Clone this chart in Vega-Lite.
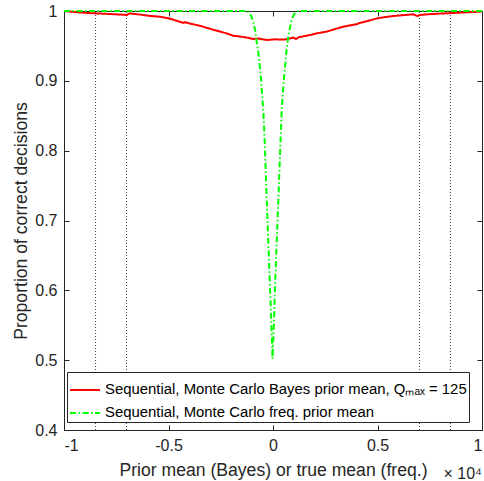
{
  "$schema": "https://vega.github.io/schema/vega-lite/v6.json",
  "width": 418,
  "height": 419,
  "autosize": {"type": "none"},
  "padding": {"left": 64, "top": 11, "right": 2, "bottom": 51},
  "background": "white",
  "title": {"text": "× 10⁴", "orient": "bottom", "anchor": "end", "frame": "group", "fontSize": 16, "font": "Liberation Sans", "fontWeight": "normal", "color": "#262626", "offset": -13},
  "config": {
    "font": "Liberation Sans",
    "title": {"fontSize": 16, "fontWeight": "normal", "font": "Liberation Sans"},
    "view": {"stroke": "#262626", "strokeWidth": 1},
    "axis": {
      "domainColor": "#262626",
      "domainWidth": 1,
      "tickColor": "#262626",
      "tickSize": -5,
      "tickWidth": 1,
      "grid": false,
      "labelFont": "Liberation Sans",
      "labelFontSize": 16,
      "labelColor": "#262626",
      "titleFont": "Liberation Sans",
      "titleFontSize": 17.6,
      "titleFontWeight": "normal",
      "titleColor": "#262626"
    },
    "legend": {
      "orient": "none",
      "legendX": 3,
      "legendY": 361,
      "direction": "vertical",
      "strokeColor": "#262626",
      "fillColor": "white",
      "padding": 2,
      "symbolType": "stroke",
      "symbolSize": 900,
      "symbolStrokeWidth": 2,
      "labelFont": "Liberation Sans",
      "labelFontSize": 14.9,
      "labelColor": "#000000",
      "labelLimit": 500,
      "labelOffset": 4,
      "rowPadding": -5,
      "offset": 0
    }
  },
  "datasets": {
    "rules": [{"vx": -8490}, {"vx": -7010}, {"vx": 7010}, {"vx": 8490}],
    "curves": [
      {"x": -10000, "p": 1.0, "s": "Bayes"},
      {"x": -9500, "p": 0.9985, "s": "Bayes"},
      {"x": -9000, "p": 0.9975, "s": "Bayes"},
      {"x": -8600, "p": 0.9967, "s": "Bayes"},
      {"x": -8000, "p": 0.996, "s": "Bayes"},
      {"x": -7500, "p": 0.9952, "s": "Bayes"},
      {"x": -7100, "p": 0.9946, "s": "Bayes"},
      {"x": -7000, "p": 0.994, "s": "Bayes"},
      {"x": -6900, "p": 0.9962, "s": "Bayes"},
      {"x": -6840, "p": 0.9965, "s": "Bayes"},
      {"x": -6400, "p": 0.995, "s": "Bayes"},
      {"x": -5890, "p": 0.993, "s": "Bayes"},
      {"x": -5410, "p": 0.9918, "s": "Bayes"},
      {"x": -5000, "p": 0.9895, "s": "Bayes"},
      {"x": -4770, "p": 0.9875, "s": "Bayes"},
      {"x": -4500, "p": 0.985, "s": "Bayes"},
      {"x": -4290, "p": 0.983, "s": "Bayes"},
      {"x": -4200, "p": 0.984, "s": "Bayes"},
      {"x": -4050, "p": 0.9825, "s": "Bayes"},
      {"x": -3810, "p": 0.981, "s": "Bayes"},
      {"x": -3400, "p": 0.978, "s": "Bayes"},
      {"x": -3010, "p": 0.9745, "s": "Bayes"},
      {"x": -2600, "p": 0.971, "s": "Bayes"},
      {"x": -2220, "p": 0.968, "s": "Bayes"},
      {"x": -1900, "p": 0.9645, "s": "Bayes"},
      {"x": -1600, "p": 0.9635, "s": "Bayes"},
      {"x": -1260, "p": 0.962, "s": "Bayes"},
      {"x": -940, "p": 0.96, "s": "Bayes"},
      {"x": -700, "p": 0.9605, "s": "Bayes"},
      {"x": -500, "p": 0.9595, "s": "Bayes"},
      {"x": -300, "p": 0.9585, "s": "Bayes"},
      {"x": -100, "p": 0.959, "s": "Bayes"},
      {"x": 100, "p": 0.9595, "s": "Bayes"},
      {"x": 330, "p": 0.959, "s": "Bayes"},
      {"x": 660, "p": 0.9595, "s": "Bayes"},
      {"x": 850, "p": 0.961, "s": "Bayes"},
      {"x": 970, "p": 0.962, "s": "Bayes"},
      {"x": 1100, "p": 0.9598, "s": "Bayes"},
      {"x": 1250, "p": 0.9625, "s": "Bayes"},
      {"x": 1500, "p": 0.964, "s": "Bayes"},
      {"x": 1770, "p": 0.9656, "s": "Bayes"},
      {"x": 2100, "p": 0.968, "s": "Bayes"},
      {"x": 2570, "p": 0.9705, "s": "Bayes"},
      {"x": 2900, "p": 0.9735, "s": "Bayes"},
      {"x": 3360, "p": 0.9775, "s": "Bayes"},
      {"x": 3700, "p": 0.9795, "s": "Bayes"},
      {"x": 4000, "p": 0.981, "s": "Bayes"},
      {"x": 4160, "p": 0.983, "s": "Bayes"},
      {"x": 4500, "p": 0.9855, "s": "Bayes"},
      {"x": 4960, "p": 0.9893, "s": "Bayes"},
      {"x": 5300, "p": 0.991, "s": "Bayes"},
      {"x": 5760, "p": 0.9928, "s": "Bayes"},
      {"x": 6200, "p": 0.994, "s": "Bayes"},
      {"x": 6710, "p": 0.9952, "s": "Bayes"},
      {"x": 6900, "p": 0.9928, "s": "Bayes"},
      {"x": 7030, "p": 0.9943, "s": "Bayes"},
      {"x": 7500, "p": 0.9955, "s": "Bayes"},
      {"x": 8000, "p": 0.9963, "s": "Bayes"},
      {"x": 8310, "p": 0.9967, "s": "Bayes"},
      {"x": 8800, "p": 0.9975, "s": "Bayes"},
      {"x": 9300, "p": 0.9982, "s": "Bayes"},
      {"x": 9900, "p": 0.999, "s": "Bayes"},
      {"x": 10000, "p": 1.0, "s": "Bayes"},
      {"x": -10000, "p": 1.0, "s": "freq"},
      {"x": -1300, "p": 1.0, "s": "freq"},
      {"x": -1200, "p": 0.999, "s": "freq"},
      {"x": -1100, "p": 0.996, "s": "freq"},
      {"x": -1000, "p": 0.99, "s": "freq"},
      {"x": -940, "p": 0.983, "s": "freq"},
      {"x": -850, "p": 0.972, "s": "freq"},
      {"x": -790, "p": 0.958, "s": "freq"},
      {"x": -700, "p": 0.94, "s": "freq"},
      {"x": -600, "p": 0.912, "s": "freq"},
      {"x": -464, "p": 0.858, "s": "freq"},
      {"x": -400, "p": 0.815, "s": "freq"},
      {"x": -300, "p": 0.729, "s": "freq"},
      {"x": -200, "p": 0.65, "s": "freq"},
      {"x": -144, "p": 0.605, "s": "freq"},
      {"x": -80, "p": 0.553, "s": "freq"},
      {"x": -20, "p": 0.502, "s": "freq"},
      {"x": 40, "p": 0.548, "s": "freq"},
      {"x": 96, "p": 0.605, "s": "freq"},
      {"x": 180, "p": 0.67, "s": "freq"},
      {"x": 254, "p": 0.729, "s": "freq"},
      {"x": 330, "p": 0.79, "s": "freq"},
      {"x": 416, "p": 0.858, "s": "freq"},
      {"x": 500, "p": 0.895, "s": "freq"},
      {"x": 650, "p": 0.944, "s": "freq"},
      {"x": 750, "p": 0.967, "s": "freq"},
      {"x": 890, "p": 0.987, "s": "freq"},
      {"x": 1000, "p": 0.995, "s": "freq"},
      {"x": 1100, "p": 0.998, "s": "freq"},
      {"x": 1200, "p": 1.0, "s": "freq"},
      {"x": 10000, "p": 1.0, "s": "freq"}
    ]
  },
  "resolve": {"axis": {"x": "independent", "y": "independent"}},
  "layer": [
    {
      "data": {"name": "rules"},
      "mark": {"type": "rule", "color": "#444444", "strokeWidth": 1, "strokeDash": [1, 2]},
      "encoding": {
        "x": {"field": "vx", "type": "quantitative", "scale": {"domain": [-10000, 10000], "nice": false, "zero": false},
              "axis": {"orient": "top", "labels": false, "title": null, "values": [-10000, -5000, 0, 5000, 10000]}},
        "y": {"datum": 0.4, "type": "quantitative", "scale": {"domain": [0.4, 1], "nice": false, "zero": false},
              "axis": {"orient": "right", "labels": false, "title": null, "values": [0.4, 0.5, 0.6, 0.7, 0.8, 0.9, 1]}},
        "y2": {"datum": 1}
      }
    },
    {
      "data": {"name": "curves"},
      "mark": {"type": "line", "strokeWidth": 2, "clip": false},
      "encoding": {
        "x": {"field": "x", "type": "quantitative", "scale": {"domain": [-10000, 10000], "nice": false, "zero": false},
              "axis": {"orient": "bottom", "title": "Prior mean (Bayes) or true mean (freq.)", "values": [-10000, -5000, 0, 5000, 10000],
                       "labelExpr": "datum.value / 10000 + ''", "labelPadding": 12, "titlePadding": 8}},
        "y": {"field": "p", "type": "quantitative", "scale": {"domain": [0.4, 1], "nice": false, "zero": false},
              "axis": {"orient": "left", "title": "Proportion of correct decisions", "values": [0.4, 0.5, 0.6, 0.7, 0.8, 0.9, 1],
                       "labelExpr": "datum.value + ''", "labelPadding": 12, "titlePadding": 4}},
        "color": {"field": "s", "type": "nominal",
                  "scale": {"domain": ["Bayes", "freq"], "range": ["#ff0000", "#00ff00"]},
                  "legend": {"title": null, "labelExpr": "datum.value == 'Bayes' ? 'Sequential, Monte Carlo Bayes prior mean, Qₘₐₓ = 125' : 'Sequential, Monte Carlo freq. prior mean'"}},
        "strokeDash": {"field": "s", "type": "nominal",
                  "scale": {"domain": ["Bayes", "freq"], "range": [[1, 0], [6, 2.5, 1.5, 2.5]]},
                  "legend": {"title": null, "labelExpr": "datum.value == 'Bayes' ? 'Sequential, Monte Carlo Bayes prior mean, Qₘₐₓ = 125' : 'Sequential, Monte Carlo freq. prior mean'"}},
        "order": {"field": "x", "type": "quantitative"}
      }
    }
  ]
}
